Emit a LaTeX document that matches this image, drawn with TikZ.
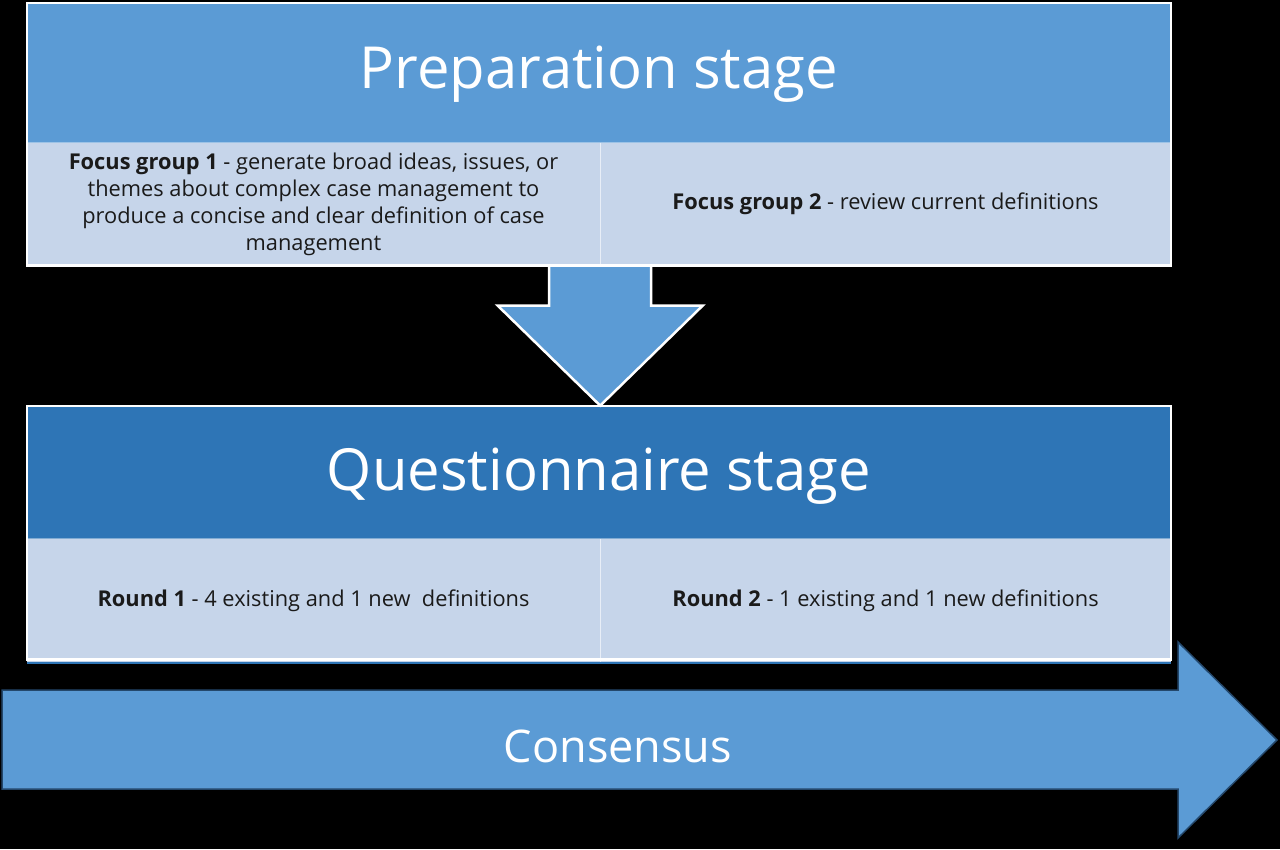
\documentclass[tikz,border=0pt]{standalone}
\usepackage{fontspec}
\setmainfont{Open Sans}
\usetikzlibrary{positioning}
\definecolor{hdrblue}{HTML}{5B9BD5}
\definecolor{darkblue}{HTML}{2E75B6}
\definecolor{cellblue}{HTML}{C6D5EA}
\definecolor{rimblue}{HTML}{24486C}
\definecolor{inktext}{HTML}{1A1A1A}
\tikzset{
  header/.style={fill=hdrblue, minimum width=1144pt, inner sep=0pt, text=white,
    font=\fontsize{58}{64}\selectfont},
  cell/.style={fill=cellblue, inner sep=0pt, align=center, text=inktext,
    font=\fontsize{21.8}{27}\selectfont},
  frame/.style={draw=white, line width=2.5pt},
}

\begin{document}
\begin{tikzpicture}[x=1pt, y=-1pt]
  % background
  \fill[black] (0,0) rectangle (1280,849);
  \useasboundingbox (0,0) rectangle (1280,849);

  % Preparation stage
  \node[header, minimum height=139pt] (prep) at (599,72.5) {};
  \node[text=white, font=\fontsize{58}{64}\selectfont] (preptitle) at (599,74) {Preparation stage};
  \node[cell, minimum width=573pt, minimum height=123pt, below right=0pt and 0pt of prep.south west] (fg1)
    {\textbf{Focus group 1} - generate broad ideas, issues, or\\
     themes about complex case management to\\
     produce a concise and clear definition of case\\
     management};
  \node[cell, minimum width=571pt, minimum height=123pt, below left=0pt and 0pt of prep.south east] (fg2)
    {\textbf{Focus group 2} - review current definitions};
  \draw[white!60!cellblue, line width=1pt] (fg1.north east) -- (fg1.south east);
  \draw[white!40!hdrblue, line width=1pt] (fg1.north west) -- (fg2.north east);
  \draw[frame] (prep.north west) rectangle (fg2.south east);

  % Questionnaire stage
  \node[header, fill=darkblue, minimum height=133pt] (quest) at (599,471.5) {};
  \node[text=white, font=\fontsize{58}{64}\selectfont] (questtitle) at (599,476) {Questionnaire stage};
  \node[cell, minimum width=573pt, minimum height=124pt, below right=0pt and 0pt of quest.south west] (r1)
    {\textbf{Round 1} - 4 existing and 1 new\ \ definitions};
  \node[cell, minimum width=571pt, minimum height=124pt, below left=0pt and 0pt of quest.south east] (r2)
    {\textbf{Round 2} - 1 existing and 1 new definitions};
  \draw[white!60!cellblue, line width=1pt] (r1.north east) -- (r1.south east);
  \draw[white!40!darkblue, line width=1pt] (r1.north west) -- (r2.north east);
  \draw[darkblue, line width=2pt] (r1.south west) -- (r2.south east);
  \draw[frame] ([yshift=-1pt]quest.north west) rectangle ([yshift=3pt]r2.south east);

  % arrow between the stages
  \coordinate (down) at (fg1.south east);
  \draw[frame, fill=hdrblue] ([xshift=-51pt]down) -- ++(0,40) -- ++(-51.5,0)
    -- ++(102.5,100) -- ++(102.5,-100) -- ++(-51.5,0) -- ++(0,-40) -- cycle;

  % Consensus
  \draw[rimblue, line width=1.5pt, fill=hdrblue] (2,690) -- (1178,690) -- (1178,642)
    -- (1277,740) -- (1178,838) -- (1178,789) -- (2,789) -- cycle;
  \node[text=white, font=\fontsize{45}{50}\selectfont] (cons) at (618,746) {Consensus};
\end{tikzpicture}
\end{document}
